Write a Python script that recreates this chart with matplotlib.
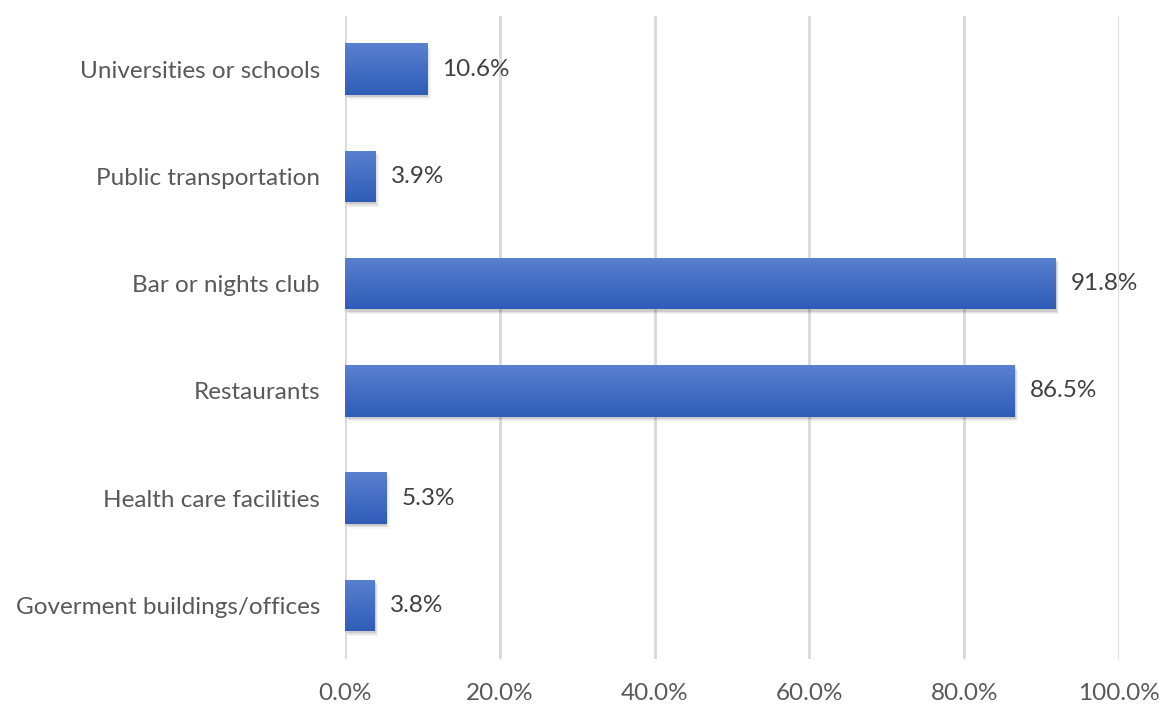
import matplotlib.pyplot as plt
import numpy as np
from matplotlib.patches import Rectangle
from matplotlib.colors import LinearSegmentedColormap

plt.rcParams['font.family'] = ['Lato', 'DejaVu Sans']

categories = ["Goverment buildings/offices", "Health care facilities", "Restaurants",
              "Bar or nights club", "Public transportation", "Universities or schools"]
values = [3.8, 5.3, 86.5, 91.8, 3.9, 10.6]
xticks = [0, 20, 40, 60, 80, 100]
xtick_labels = ["0.0%", "20.0%", "40.0%", "60.0%", "80.0%", "100.0%"]

fig = plt.figure(figsize=(11.59, 7.05), dpi=100)
ax = fig.add_axes([0.2977, 0.0652, 0.9655 - 0.2977, 0.978 - 0.0652])

ypos = np.arange(len(categories))
bar_h = 0.48
text_color = "#595959"
fs = 17.5

grad_cmap = LinearSegmentedColormap.from_list("bar", ["#2f5cb8", "#5a80cf"])
grad = np.linspace(0, 1, 256).reshape(-1, 1)

bars = ax.barh(ypos, values, height=bar_h, color="none", zorder=3)
for rect, v in zip(bars, values):
    x0, y0 = rect.get_x(), rect.get_y()
    w, h = rect.get_width(), rect.get_height()
    # soft drop shadow
    for k, a in enumerate([0.10, 0.07, 0.04]):
        off = 0.25 + 0.25 * k
        sh = Rectangle((x0 + off * 0.6, y0 - 0.02 - 0.012 * k), w, h,
                       facecolor="black", alpha=a, edgecolor="none", zorder=2)
        ax.add_patch(sh)
    im = ax.imshow(grad, cmap=grad_cmap, aspect="auto", origin="lower",
                   extent=(x0, x0 + w, y0, y0 + h), zorder=3)
    im.set_clip_path(rect)
    ax.annotate(f"{v:.1f}%", (v, rect.get_y() + h / 2), xytext=(11, 0),
                textcoords="offset points", va="center", ha="left",
                fontsize=fs, color="#404040")

ax.set_xlim(0, 100)
ax.set_ylim(-0.5, len(categories) - 0.5)
ax.set_xticks(xticks)
ax.set_xticklabels(xtick_labels)
ax.set_yticks(ypos)
ax.set_yticklabels(categories)
ax.tick_params(axis="both", length=0, labelsize=fs, labelcolor=text_color)
ax.tick_params(axis="x", pad=17)
ax.tick_params(axis="y", pad=18)
ax.grid(axis="x", color="#d9d9d9", linewidth=2, zorder=0)
ax.set_axisbelow(True)
for s in ax.spines.values():
    s.set_visible(False)

fig.savefig("out.png", dpi=100)
